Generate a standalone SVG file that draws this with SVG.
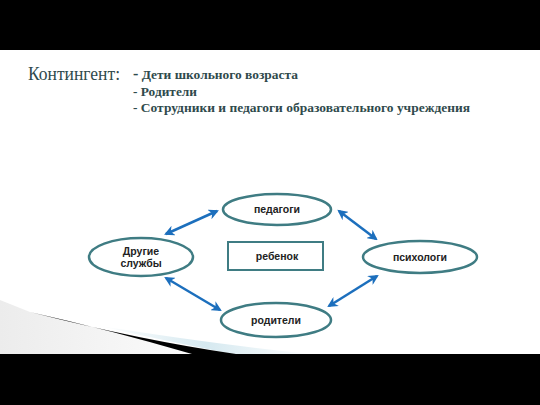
<svg xmlns="http://www.w3.org/2000/svg" width="540" height="405" viewBox="0 0 540 405">
<defs>
<style>
.node{fill:#fff;stroke:#3f7c83;stroke-width:2.5}
.lbl{font-family:"Liberation Sans",Arial,sans-serif;font-weight:bold;font-size:10.5px;fill:#222;text-anchor:middle}
.hd{font-family:"Liberation Serif","Times New Roman",serif;fill:#2f4a4c}
.conn{stroke:#1c6fbd;stroke-width:2.5;fill:none;marker-start:url(#ah);marker-end:url(#ah)}
</style>
<marker id="ah" viewBox="0 0 10 10" refX="8" refY="5" markerWidth="4.2" markerHeight="4.2" orient="auto-start-reverse" markerUnits="strokeWidth">
<path d="M0,0 L10,5 L0,10 L3,5 Z" fill="#1c6fbd"/>
</marker>
<linearGradient id="gray" x1="0" y1="0" x2="1" y2="0">
<stop offset="0" stop-color="#ececec"/>
<stop offset="1" stop-color="#ffffff"/>
</linearGradient>
<linearGradient id="blue" x1="0" y1="0" x2="1" y2="0">
<stop offset="0" stop-color="#ffffff"/>
<stop offset="0.5" stop-color="#d6e9f0"/>
<stop offset="1" stop-color="#ffffff"/>
</linearGradient>
</defs>
<rect width="540" height="405" fill="#fff"/>
<g id="decor">
<path d="M0,300 L30,312 Q120,335 235,354 L0,354 Z" fill="url(#gray)"/>
<path d="M100,326 Q220,345 312,354 L233,354 Q160,340 100,326 Z" fill="url(#blue)"/>
<path d="M30,312 Q140,340 236,354 L192,354 Q110,330 30,312 Z" fill="#000"/>
</g>
<rect x="0" y="0" width="540" height="50" fill="#000"/>
<rect x="0" y="354" width="540" height="51" fill="#000"/>
<g id="header">
<text class="hd" x="28" y="80" font-size="18" textLength="92" lengthAdjust="spacingAndGlyphs">Контингент:</text>
<text class="hd" x="133" y="79" font-size="13.5" font-weight="bold" textLength="165" lengthAdjust="spacingAndGlyphs"><tspan font-size="16">-</tspan> Дети школьного возраста</text>
<text class="hd" x="133" y="96" font-size="13.5" font-weight="bold" textLength="64" lengthAdjust="spacingAndGlyphs">- Родители</text>
<text class="hd" x="133" y="112" font-size="13.5" font-weight="bold" textLength="337" lengthAdjust="spacingAndGlyphs">- Сотрудники и педагоги образовательного учреждения</text>
</g>
<g id="connectors">
<line class="conn" x1="166" y1="234" x2="217" y2="211"/>
<line class="conn" x1="339" y1="211" x2="376" y2="239"/>
<line class="conn" x1="166" y1="278" x2="220" y2="310"/>
<line class="conn" x1="329" y1="306" x2="377" y2="276"/>
</g>
<g id="pedagogi">
<ellipse class="node" cx="277" cy="209.5" rx="54" ry="15.5"/>
<text class="lbl" x="277" y="213">педагоги</text>
</g>
<g id="rebenok">
<rect x="228" y="242" width="95" height="28" fill="#fff" stroke="#3f7c83" stroke-width="2"/>
<text class="lbl" x="277" y="260">ребенок</text>
</g>
<g id="psihologi">
<ellipse class="node" cx="420" cy="257" rx="57" ry="16"/>
<text class="lbl" x="420" y="261">психологи</text>
</g>
<g id="drugie">
<ellipse class="node" cx="141" cy="257" rx="52" ry="19"/>
<text class="lbl" x="141" y="255">Другие</text>
<text class="lbl" x="141" y="267">службы</text>
</g>
<g id="roditeli">
<ellipse class="node" cx="276" cy="320" rx="55" ry="17"/>
<text class="lbl" x="276" y="324">родители</text>
</g>
</svg>
